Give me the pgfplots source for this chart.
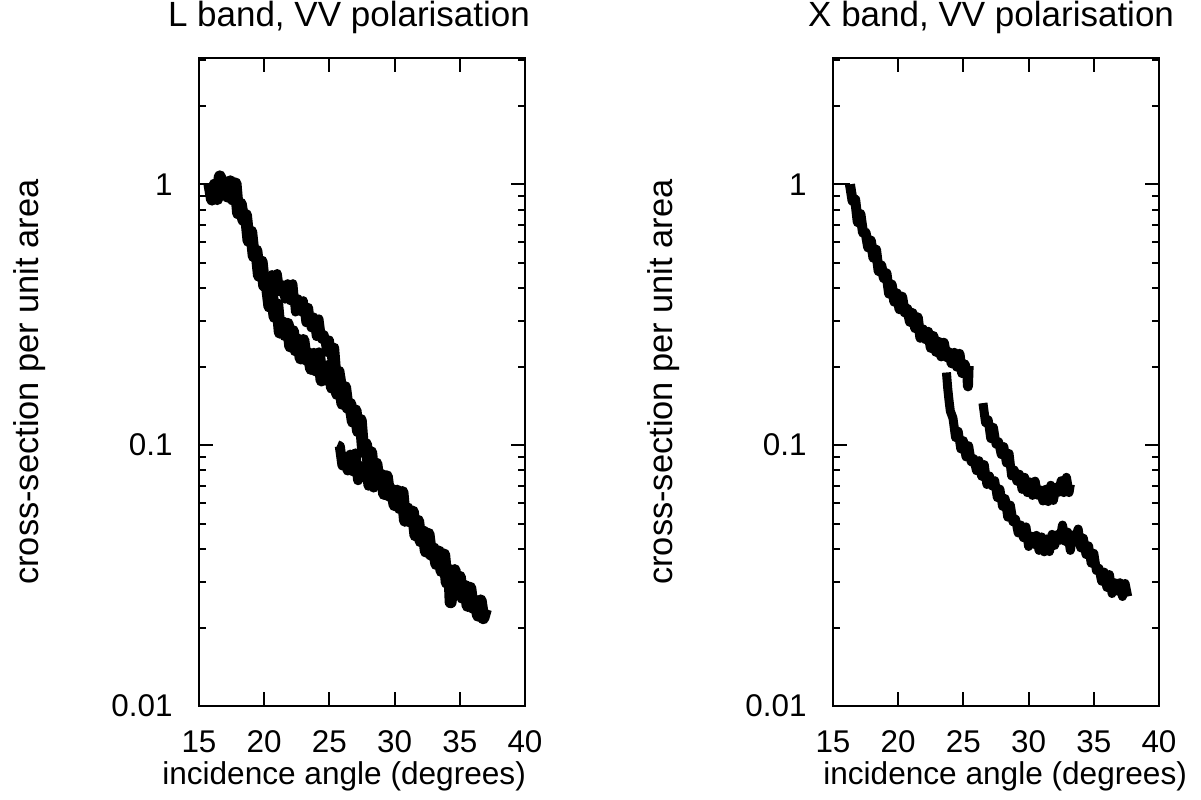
\documentclass[border=0pt]{standalone}
\usepackage{pgfplots}
\pgfplotsset{compat=1.18}
\usepackage{fontspec}
\setmainfont{Liberation Sans}
\tikzset{band/.style={black, line width=6pt, line join=round}}
\begin{document}
\begin{tikzpicture}
\path[use as bounding box] (-99.5pt,-46.5pt) rectangle (501pt,353pt);
\begin{axis}[at={(0pt,0pt)}, anchor=south west,
  scale only axis, width=163pt, height=324pt,
  xmin=15, xmax=40, ymode=log, ymin=0.01, ymax=3.05,
  xtick={15,20,25,30,35,40}, xticklabels={15,20,25,30,35,40},
  ytick={0.01,0.1,1}, yticklabels={0.01,0.1,1},
  minor ytick={0.02,0.03,0.04,0.05,0.06,0.07,0.08,0.09,0.2,0.3,0.4,0.5,0.6,0.7,0.8,0.9,2,3},
  tick align=inside, tick pos=both,
  major tick length=7pt, minor tick length=3.5pt,
  axis line style={line width=1.3pt},
  every tick/.style={line width=1pt, black},
  tick label style={font=\fontsize{15.7}{18}\selectfont},
  xticklabel style={anchor=base, yshift=-23pt},
  yticklabel style={anchor=east, inner sep=0pt, xshift=-13pt},
  xlabel style={font=\fontsize{15.8}{18}\selectfont},
  ylabel style={font=\fontsize{17.2}{20}\selectfont},
  title style={font=\fontsize{17.5}{20}\selectfont, anchor=base, yshift=9.7pt, at={(axis description cs:0.46,1)}},
  ylabel style={at={(axis description cs:-0.52,0.5)}, anchor=center},
  title={L band, VV polarisation},
  xlabel={incidence angle (degrees)}, xlabel style={at={(axis description cs:0.445,0)}, anchor=base, yshift=-39pt},
  ylabel={cross-section per unit area}]
\addplot[band, mark=none] coordinates {(15.8,1.004)(16.0,0.874)(16.2,0.998)(16.4,0.878)(16.6,1.073)(16.8,0.936)(17.0,1.020)(17.2,0.897)(17.4,1.027)(17.6,0.874)(17.8,1.008)(18.0,0.774)(18.2,0.842)(18.4,0.730)(18.6,0.763)(18.8,0.607)(19.0,0.659)(19.2,0.530)(19.4,0.557)(19.6,0.446)(19.8,0.506)(20.0,0.409)(20.2,0.412)(20.4,0.340)(20.6,0.375)(20.8,0.310)(21.0,0.347)(21.2,0.270)(21.4,0.296)(21.6,0.264)(21.8,0.292)(22.0,0.239)(22.2,0.274)(22.4,0.231)(22.6,0.254)(22.8,0.215)(23.0,0.253)(23.2,0.213)(23.4,0.225)(23.6,0.196)(23.8,0.224)(24.0,0.193)(24.2,0.225)(24.4,0.177)(24.6,0.201)(24.8,0.181)(25.0,0.202)(25.2,0.166)(25.4,0.189)(25.6,0.157)(25.8,0.172)(26.0,0.144)(26.2,0.167)(26.4,0.139)(26.6,0.144)(26.8,0.123)(27.0,0.136)(27.2,0.113)(27.4,0.125)(27.6,0.094)(27.8,0.101)(28.0,0.086)(28.2,0.094)(28.4,0.075)(28.6,0.085)(28.8,0.071)(29.0,0.077)(29.2,0.065)(29.4,0.076)(29.6,0.064)(29.8,0.0675)(30.0,0.0589)(30.2,0.0669)(30.4,0.0573)(30.6,0.0661)(30.8,0.0513)(31.0,0.0572)(31.2,0.0509)(31.4,0.0556)(31.6,0.0451)(31.8,0.0513)(32.0,0.0428)(32.2,0.0467)(32.4,0.0391)(32.6,0.0457)(32.8,0.0380)(33.0,0.0402)(33.2,0.0350)(33.4,0.0391)(33.6,0.0329)(33.8,0.0381)(34.0,0.0297)(34.2,0.0333)(34.3,0.0250)(34.4,0.0302)(34.6,0.0332)(34.8,0.0274)(35.0,0.0313)(35.2,0.0260)(35.4,0.0289)(35.6,0.0242)(35.8,0.0284)(36.0,0.0238)(36.2,0.0252)(36.4,0.0222)(36.6,0.0254)(36.8,0.0217)(37.0,0.0235)};
\addplot[band, line width=4.5pt, mark=none] coordinates {(20.2,0.460)(20.4,0.409)(20.6,0.451)(20.8,0.383)(21.0,0.455)(21.2,0.387)(21.4,0.412)(21.6,0.363)(21.8,0.416)(22.0,0.358)(22.2,0.416)(22.4,0.324)(22.6,0.364)(22.8,0.325)(23.0,0.358)(23.2,0.295)(23.4,0.337)(23.6,0.282)(23.8,0.310)(24.0,0.261)(24.2,0.305)(24.4,0.255)(24.6,0.265)(24.8,0.227)(25.0,0.253)(25.2,0.211)(25.4,0.237)(25.6,0.178)(25.8,0.193)(26.0,0.167)};
\addplot[band, line width=5pt, mark=none] coordinates {(25.6,0.100)(25.8,0.099)(26.0,0.0836)(26.2,0.0901)(26.4,0.0800)(26.6,0.0920)(26.8,0.0794)(27.0,0.0930)(27.2,0.0734)(27.4,0.0832)(27.6,0.0754)(27.8,0.0839)(28.0,0.0699)(28.2,0.0810)(28.4,0.0688)(28.6,0.0767)};
\end{axis}
\begin{axis}[at={(317pt,0pt)}, anchor=south west,
  scale only axis, width=163pt, height=324pt,
  xmin=15, xmax=40, ymode=log, ymin=0.01, ymax=3.05,
  xtick={15,20,25,30,35,40}, xticklabels={15,20,25,30,35,40},
  ytick={0.01,0.1,1}, yticklabels={0.01,0.1,1},
  minor ytick={0.02,0.03,0.04,0.05,0.06,0.07,0.08,0.09,0.2,0.3,0.4,0.5,0.6,0.7,0.8,0.9,2,3},
  tick align=inside, tick pos=both,
  major tick length=7pt, minor tick length=3.5pt,
  axis line style={line width=1.3pt},
  every tick/.style={line width=1pt, black},
  tick label style={font=\fontsize{15.7}{18}\selectfont},
  xticklabel style={anchor=base, yshift=-23pt},
  yticklabel style={anchor=east, inner sep=0pt, xshift=-13pt},
  xlabel style={font=\fontsize{15.8}{18}\selectfont},
  ylabel style={font=\fontsize{17.2}{20}\selectfont},
  title style={font=\fontsize{17.5}{20}\selectfont, anchor=base, yshift=9.7pt, at={(axis description cs:0.485,1)}},
  ylabel style={at={(axis description cs:-0.52,0.5)}, anchor=center},
  title={X band, VV polarisation},
  xlabel={incidence angle (degrees)}, xlabel style={at={(axis description cs:0.528,0)}, anchor=base, yshift=-39pt},
  ylabel={cross-section per unit area}]
\addplot[black, line width=1pt, mark=none] coordinates {(15,1)(16.3,1)};
\addplot[band, line width=5pt, mark=none] coordinates {(16.3,1.0)(16.5,0.865)(16.7,0.874)(16.9,0.716)(17.1,0.770)(17.3,0.653)(17.5,0.653)(17.7,0.573)(17.9,0.609)(18.1,0.523)(18.3,0.562)(18.5,0.465)(18.7,0.489)(18.9,0.437)(19.1,0.456)(19.3,0.381)(19.5,0.413)(19.7,0.355)(19.9,0.382)(20.1,0.332)(20.3,0.371)(20.5,0.323)(20.7,0.333)(20.9,0.297)(21.1,0.321)(21.3,0.281)(21.5,0.309)(21.7,0.258)(21.9,0.278)(22.1,0.255)(22.3,0.272)(22.5,0.236)(22.7,0.262)(22.9,0.228)(23.1,0.249)(23.3,0.219)(23.5,0.247)(23.7,0.218)(23.9,0.227)(24.1,0.206)(24.3,0.226)(24.5,0.200)(24.7,0.224)(24.9,0.189)(25.1,0.204)(25.3,0.187)(25.35,0.168)(25.4,0.201)};
\addplot[band, line width=4.5pt, mark=none] coordinates {(23.7,0.19)(23.8,0.165)(23.9,0.148)(24.0,0.135)(24.2,0.127)(24.4,0.107)(24.6,0.113)(24.8,0.0968)(25.0,0.104)(25.2,0.0902)(25.4,0.0995)(25.6,0.0864)(25.8,0.0887)(26.0,0.0799)(26.2,0.0872)(26.4,0.0760)(26.6,0.0842)(26.8,0.0707)(27.0,0.0762)(27.2,0.0698)(27.4,0.0731)(27.6,0.0630)(27.8,0.0678)(28.0,0.0583)(28.2,0.0624)(28.4,0.0530)(28.6,0.0589)(28.8,0.0509)(29.0,0.0520)(29.2,0.0461)(29.4,0.0494)(29.6,0.0442)(29.8,0.0486)(30.0,0.0409)(30.2,0.0448)(30.4,0.0417)(30.6,0.0451)(30.8,0.0395)(31.0,0.0445)(31.2,0.0390)(31.4,0.0437)(31.6,0.0391)(31.8,0.0455)(32.0,0.0413)(32.2,0.0454)(32.4,0.0432)(32.6,0.0494)(32.8,0.0428)(33.0,0.0464)(33.2,0.0395)(33.4,0.0453)(33.6,0.0441)(33.8,0.0477)(34.0,0.0404)(34.2,0.0440)(34.4,0.0381)(34.6,0.0411)(34.8,0.0353)(35.0,0.0385)(35.2,0.0331)(35.4,0.0337)(35.6,0.0301)(35.8,0.0326)(36.0,0.0285)(36.2,0.0319)(36.4,0.0270)(36.6,0.0297)(36.8,0.0276)(37.0,0.0297)(37.2,0.0263)(37.4,0.0295)(37.6,0.0263)};
\addplot[band, line width=4.5pt, mark=none] coordinates {(26.5,0.145)(26.7,0.122)(26.9,0.125)(27.1,0.106)(27.3,0.117)(27.5,0.101)(27.7,0.103)(27.9,0.0921)(28.1,0.0987)(28.3,0.0855)(28.5,0.0929)(28.7,0.0763)(28.9,0.0803)(29.1,0.0728)(29.3,0.0774)(29.5,0.0677)(29.7,0.0753)(29.9,0.0658)(30.1,0.0723)(30.3,0.0642)(30.5,0.0728)(30.7,0.0643)(30.9,0.0673)(31.1,0.0611)(31.3,0.0677)(31.5,0.0608)(31.7,0.0702)(31.9,0.0614)(32.1,0.0690)(32.3,0.0660)(32.5,0.0731)(32.7,0.0658)(32.9,0.0753)(33.1,0.0658)(33.2,0.0707)};
\end{axis}
\end{tikzpicture}
\end{document}
